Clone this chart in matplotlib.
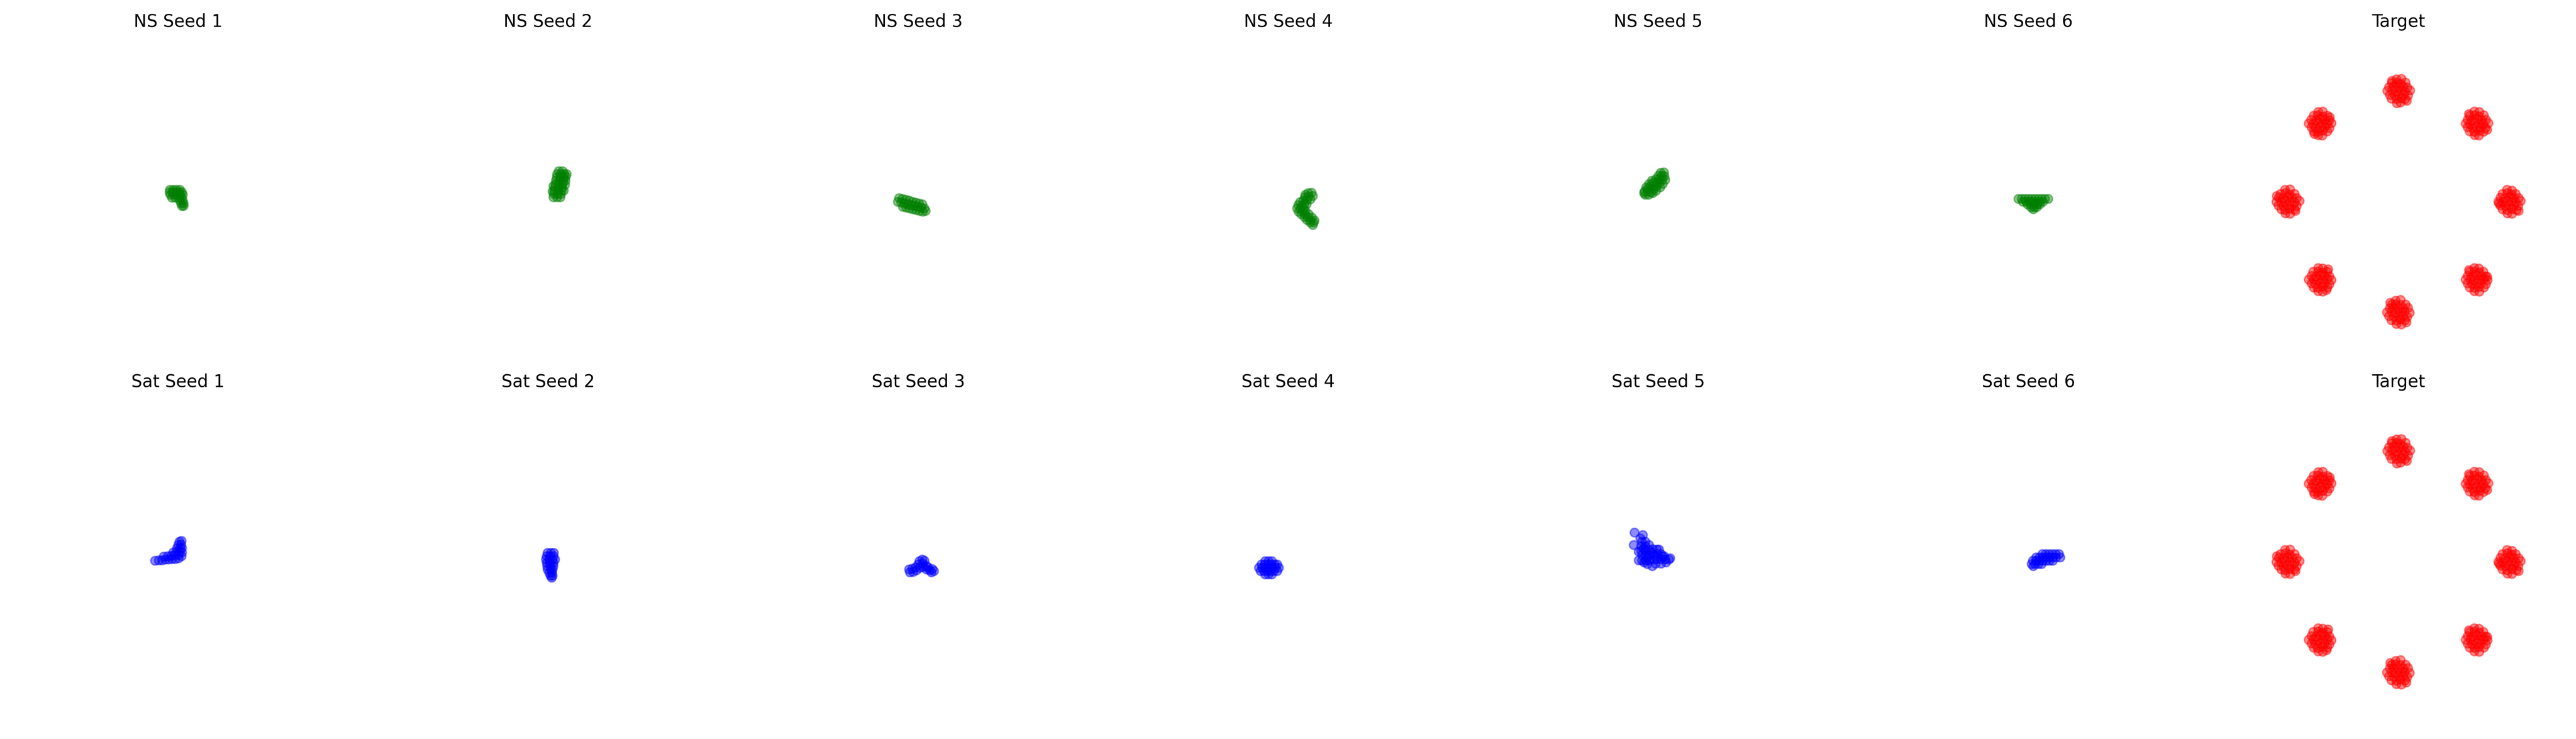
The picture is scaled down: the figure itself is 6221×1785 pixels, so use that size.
"""Generator samples vs. target for NS and Sat GAN losses, one panel per seed."""

import matplotlib

matplotlib.use("Agg")

import matplotlib.pyplot as plt

# --- generated samples (x, y) -----------------------------------------------
NS_SEED_1 = [(-0.15, 0.21), (-0.09, 0.21), (-0.03, 0.21), (0.03, 0.21),
             (-0.16, 0.17), (-0.10, 0.17), (-0.04, 0.17), (0.02, 0.17), (0.07, 0.17),
             (-0.14, 0.12), (-0.08, 0.12), (-0.02, 0.12), (0.04, 0.12), (0.08, 0.12),
             (-0.11, 0.07), (-0.05, 0.07), (0.01, 0.07), (0.06, 0.07),
             (0.03, 0.02), (0.08, 0.02), (0.05, -0.03), (0.10, -0.03), (0.07, -0.08), (0.10, -0.08)]
NS_SEED_2 = [(0.09, 0.08), (0.16, 0.08), (0.22, 0.08), (0.10, 0.14), (0.17, 0.14), (0.23, 0.14),
             (0.11, 0.20), (0.18, 0.20), (0.24, 0.20), (0.12, 0.26), (0.19, 0.26), (0.25, 0.26),
             (0.13, 0.32), (0.20, 0.32), (0.26, 0.32), (0.14, 0.38), (0.21, 0.38), (0.27, 0.38),
             (0.15, 0.44), (0.22, 0.44), (0.28, 0.44), (0.16, 0.50), (0.23, 0.50), (0.29, 0.50),
             (0.19, 0.55), (0.26, 0.55), (0.28, 0.20), (0.30, 0.30), (0.31, 0.38), (0.32, 0.45),
             (0.33, 0.50), (0.08, 0.18), (0.09, 0.28)]
NS_SEED_3 = [(-0.35, 0.06), (-0.29, 0.05), (-0.23, 0.03), (-0.17, 0.02), (-0.11, 0.00),
             (-0.05, -0.02), (0.01, -0.03), (0.07, -0.05),
             (-0.37, 0.00), (-0.31, -0.02), (-0.25, -0.03), (-0.19, -0.05), (-0.13, -0.06),
             (-0.07, -0.08), (-0.01, -0.09), (0.05, -0.11), (0.11, -0.12),
             (-0.28, -0.09), (-0.22, -0.11), (-0.16, -0.12), (-0.10, -0.14), (-0.04, -0.15),
             (0.02, -0.17), (0.08, -0.18), (0.13, -0.17)]
NS_SEED_4 = [(0.42, 0.16), (0.36, 0.15), (0.44, 0.10), (0.37, 0.09), (0.30, 0.08), (0.34, 0.03),
             (0.27, 0.02), (0.21, -0.01), (0.29, -0.04), (0.18, -0.06), (0.24, -0.08), (0.16, -0.12),
             (0.22, -0.13), (0.19, -0.18), (0.26, -0.18), (0.23, -0.23), (0.30, -0.23), (0.29, -0.28),
             (0.35, -0.28), (0.34, -0.33), (0.40, -0.33), (0.40, -0.38), (0.46, -0.38), (0.44, -0.42),
             (0.31, 0.12), (0.40, 0.04), (0.33, -0.05), (0.28, -0.12), (0.31, -0.17), (0.37, -0.23),
             (0.43, -0.29), (0.47, -0.34)]
NS_SEED_5 = [(-0.24, 0.12), (-0.18, 0.12), (-0.25, 0.18), (-0.19, 0.18), (-0.13, 0.17),
             (-0.20, 0.23), (-0.14, 0.23), (-0.08, 0.23), (-0.14, 0.29), (-0.08, 0.29),
             (-0.03, 0.28), (-0.09, 0.35), (-0.03, 0.35), (0.02, 0.34), (-0.04, 0.41),
             (0.02, 0.41), (0.07, 0.40), (0.00, 0.47), (0.06, 0.47), (0.11, 0.46),
             (0.04, 0.52), (0.10, 0.53), (-0.26, 0.15), (-0.22, 0.26), (-0.17, 0.32),
             (-0.12, 0.38), (-0.10, 0.15), (-0.04, 0.20), (0.03, 0.26), (0.08, 0.32), (0.12, 0.39)]
NS_SEED_6 = [(-0.18, 0.05), (-0.12, 0.05), (-0.06, 0.05), (0.00, 0.05), (0.06, 0.05),
             (0.12, 0.05), (0.18, 0.05), (0.24, 0.05), (0.30, 0.05), (0.36, 0.05),
             (-0.10, 0.00), (-0.04, 0.00), (0.02, 0.00), (0.08, 0.00), (0.14, 0.00),
             (0.20, 0.00), (0.26, 0.00), (-0.02, -0.05), (0.04, -0.05), (0.10, -0.05),
             (0.16, -0.05), (0.21, -0.05), (0.04, -0.10), (0.10, -0.10), (0.15, -0.10),
             (0.09, -0.14)]

SAT_SEED_1 = [(-0.42, 0.02), (-0.35, 0.03), (-0.29, 0.03), (-0.23, 0.04), (-0.17, 0.04),
              (-0.11, 0.05), (-0.05, 0.05), (0.01, 0.06), (-0.26, 0.09), (-0.19, 0.10),
              (-0.12, 0.11), (-0.06, 0.12), (0.01, 0.12), (0.06, 0.10), (-0.09, 0.17),
              (-0.03, 0.18), (0.03, 0.18), (0.07, 0.17), (-0.02, 0.24), (0.04, 0.24),
              (0.07, 0.25), (0.00, 0.30), (0.05, 0.31), (0.02, 0.36), (0.06, 0.38)]
SAT_SEED_2 = [(-0.01, 0.16), (0.05, 0.16), (0.10, 0.16), (-0.03, 0.10), (0.03, 0.10), (0.09, 0.10),
              (-0.04, 0.04), (0.02, 0.04), (0.08, 0.04), (0.12, 0.04), (-0.03, -0.02), (0.03, -0.02),
              (0.09, -0.02), (-0.02, -0.08), (0.04, -0.08), (0.09, -0.08), (-0.01, -0.14),
              (0.05, -0.14), (0.08, -0.14), (0.02, -0.20), (0.07, -0.20), (0.04, -0.25),
              (0.08, -0.25), (0.06, -0.29)]
SAT_SEED_3 = [(-0.17, -0.14), (-0.11, -0.12), (-0.15, -0.19), (-0.09, -0.18), (-0.05, -0.10),
              (-0.03, -0.15), (0.00, -0.05), (0.03, -0.11), (0.02, 0.01), (0.07, 0.04),
              (0.08, -0.03), (0.11, 0.02), (0.09, -0.09), (0.14, -0.07), (0.18, -0.10),
              (0.15, -0.14), (0.21, -0.15), (0.25, -0.13), (0.28, -0.17), (0.24, -0.19)]
SAT_SEED_4 = [(-0.42, 0.01), (-0.36, 0.01), (-0.30, 0.01),
              (-0.49, -0.05), (-0.43, -0.05), (-0.37, -0.05), (-0.31, -0.05), (-0.25, -0.05),
              (-0.20, -0.05), (-0.53, -0.11), (-0.47, -0.11), (-0.41, -0.11), (-0.35, -0.11),
              (-0.29, -0.11), (-0.23, -0.11), (-0.17, -0.11), (-0.50, -0.17), (-0.44, -0.17),
              (-0.38, -0.17), (-0.32, -0.17), (-0.26, -0.17), (-0.20, -0.17),
              (-0.42, -0.23), (-0.36, -0.23), (-0.30, -0.23)]
SAT_SEED_5 = [(-0.43, 0.53), (-0.28, 0.48), (-0.45, 0.30), (-0.36, 0.18), (-0.36, 0.03),
              (-0.33, 0.42), (-0.30, 0.36), (-0.24, 0.36), (-0.31, 0.28), (-0.24, 0.28),
              (-0.17, 0.30), (-0.31, 0.20), (-0.24, 0.20), (-0.17, 0.21), (-0.10, 0.23),
              (-0.03, 0.22), (0.01, 0.22), (-0.30, 0.12), (-0.23, 0.12), (-0.16, 0.12),
              (-0.09, 0.13), (-0.02, 0.14), (0.05, 0.14), (0.10, 0.10), (-0.30, 0.03),
              (-0.23, 0.03), (-0.16, 0.03), (-0.09, 0.04), (-0.02, 0.05), (0.05, 0.05),
              (0.12, 0.04), (0.19, 0.04), (0.21, 0.06), (-0.20, -0.04), (-0.11, -0.08),
              (-0.05, -0.03), (0.05, -0.03), (0.14, -0.01), (-0.27, 0.24), (-0.20, 0.08),
              (-0.06, 0.09), (0.08, 0.09), (-0.13, 0.17), (-0.26, -0.01)]
SAT_SEED_6 = [(0.25, 0.14), (0.31, 0.14), (0.37, 0.14), (0.43, 0.14), (0.49, 0.14), (0.55, 0.14),
              (0.14, 0.08), (0.20, 0.08), (0.26, 0.08), (0.32, 0.08), (0.38, 0.08), (0.44, 0.08),
              (0.50, 0.08), (0.57, 0.08), (0.08, 0.02), (0.14, 0.02), (0.20, 0.02), (0.26, 0.02),
              (0.32, 0.02), (0.38, 0.02), (0.44, 0.02), (0.06, -0.04), (0.12, -0.04),
              (0.18, -0.04), (0.24, -0.04), (0.09, -0.08)]

# --- target: eight gaussians on a ring of radius 2 ---------------------------
TARGET_TOP = [(-0.04, 2.21), (0.05, 2.22), (-0.12, 2.14), (-0.03, 2.15), (0.04, 2.13), (0.13, 2.15),
              (-0.17, 2.07), (-0.08, 2.08), (0.01, 2.06), (0.08, 2.08), (0.16, 2.06),
              (-0.20, 2.00), (-0.11, 2.01), (-0.04, 1.99), (0.05, 2.01), (0.12, 1.99), (0.21, 2.01),
              (-0.16, 1.93), (-0.07, 1.92), (0.00, 1.94), (0.09, 1.93), (0.17, 1.92),
              (-0.13, 1.86), (-0.04, 1.85), (0.05, 1.87), (0.12, 1.85), (-0.03, 1.78), (0.04, 1.79),
              (-0.12, 2.18), (0.15, 1.82)]
TARGET_TOP_RIGHT = [(1.37, 1.63), (1.46, 1.62), (1.29, 1.55), (1.38, 1.56), (1.45, 1.54), (1.54, 1.56),
                    (1.25, 1.48), (1.33, 1.47), (1.42, 1.49), (1.50, 1.47), (1.58, 1.48),
                    (1.21, 1.41), (1.29, 1.40), (1.37, 1.42), (1.46, 1.41), (1.53, 1.40), (1.62, 1.42),
                    (1.25, 1.34), (1.34, 1.33), (1.41, 1.35), (1.49, 1.34), (1.57, 1.33),
                    (1.29, 1.27), (1.37, 1.26), (1.46, 1.28), (1.53, 1.26), (1.38, 1.20), (1.45, 1.19),
                    (1.60, 1.30), (1.27, 1.58)]
TARGET_RIGHT = [(1.96, 0.21), (2.05, 0.20), (1.88, 0.14), (1.97, 0.15), (2.04, 0.13), (2.12, 0.14),
                (1.84, 0.07), (1.92, 0.06), (2.01, 0.08), (2.08, 0.07), (2.17, 0.06),
                (1.80, 0.00), (1.88, -0.01), (1.97, 0.01), (2.04, 0.00), (2.12, -0.01), (2.21, 0.01),
                (1.84, -0.07), (1.93, -0.08), (2.00, -0.06), (2.09, -0.07), (2.16, -0.08),
                (1.88, -0.14), (1.96, -0.15), (2.05, -0.13), (2.13, -0.15), (1.97, -0.21), (2.05, -0.22),
                (2.17, -0.17), (1.82, -0.03)]
TARGET_BOTTOM_RIGHT = [(1.37, -1.20), (1.45, -1.21), (1.29, -1.27), (1.38, -1.26), (1.46, -1.28),
                       (1.53, -1.27), (1.25, -1.34), (1.34, -1.35), (1.41, -1.33), (1.50, -1.34),
                       (1.57, -1.35), (1.21, -1.41), (1.30, -1.40), (1.37, -1.42), (1.45, -1.41),
                       (1.54, -1.40), (1.61, -1.42), (1.25, -1.48), (1.33, -1.49), (1.42, -1.47),
                       (1.49, -1.48), (1.58, -1.49), (1.29, -1.55), (1.38, -1.56), (1.45, -1.54),
                       (1.54, -1.55), (1.37, -1.62), (1.46, -1.63), (1.60, -1.36), (1.27, -1.24)]
TARGET_BOTTOM = [(-0.05, -1.79), (0.04, -1.78), (-0.12, -1.86), (-0.05, -1.85), (0.04, -1.87),
                 (0.13, -1.86), (-0.16, -1.93), (-0.09, -1.92), (0.00, -1.94), (0.08, -1.93),
                 (0.17, -1.92), (-0.21, -2.00), (-0.12, -1.99), (-0.05, -2.01), (0.04, -2.00),
                 (0.11, -1.99), (0.20, -2.01), (-0.17, -2.07), (-0.08, -2.08), (0.01, -2.06),
                 (0.08, -2.07), (0.16, -2.08), (-0.13, -2.14), (-0.04, -2.15), (0.03, -2.13),
                 (0.12, -2.14), (-0.04, -2.21), (0.05, -2.22), (0.14, -2.18), (-0.15, -1.83)]
TARGET_BOTTOM_LEFT = [(-1.45, -1.20), (-1.37, -1.21), (-1.54, -1.27), (-1.45, -1.26), (-1.38, -1.28),
                      (-1.29, -1.27), (-1.57, -1.34), (-1.49, -1.35), (-1.41, -1.33), (-1.33, -1.34),
                      (-1.25, -1.35), (-1.62, -1.41), (-1.53, -1.40), (-1.46, -1.42), (-1.37, -1.41),
                      (-1.29, -1.40), (-1.21, -1.42), (-1.57, -1.48), (-1.50, -1.49), (-1.41, -1.47),
                      (-1.34, -1.48), (-1.25, -1.49), (-1.53, -1.55), (-1.46, -1.56), (-1.37, -1.54),
                      (-1.29, -1.55), (-1.45, -1.62), (-1.37, -1.63), (-1.27, -1.22), (-1.30, -1.60)]
TARGET_LEFT = [(-2.05, 0.21), (-1.96, 0.22), (-2.13, 0.14), (-2.04, 0.15), (-1.97, 0.13), (-1.88, 0.14),
               (-2.16, 0.07), (-2.08, 0.06), (-2.00, 0.08), (-1.92, 0.07), (-1.84, 0.06),
               (-2.21, 0.00), (-2.12, -0.01), (-2.05, 0.01), (-1.96, 0.00), (-1.88, -0.01), (-1.79, 0.01),
               (-2.17, -0.07), (-2.08, -0.08), (-2.01, -0.06), (-1.92, -0.07), (-1.84, -0.08),
               (-2.12, -0.14), (-2.05, -0.15), (-1.96, -0.13), (-1.88, -0.14), (-2.04, -0.21), (-1.96, -0.22),
               (-2.20, 0.10), (-1.86, -0.17)]
TARGET_TOP_LEFT = [(-1.45, 1.62), (-1.37, 1.63), (-1.53, 1.55), (-1.46, 1.56), (-1.37, 1.54), (-1.29, 1.55),
                   (-1.58, 1.48), (-1.49, 1.47), (-1.42, 1.49), (-1.33, 1.48), (-1.25, 1.47),
                   (-1.62, 1.41), (-1.54, 1.40), (-1.45, 1.42), (-1.38, 1.41), (-1.29, 1.40), (-1.21, 1.42),
                   (-1.57, 1.34), (-1.50, 1.33), (-1.41, 1.35), (-1.33, 1.34), (-1.25, 1.33),
                   (-1.53, 1.27), (-1.46, 1.26), (-1.37, 1.28), (-1.29, 1.27), (-1.45, 1.20), (-1.38, 1.19),
                   (-1.24, 1.52), (-1.52, 1.22)]

TARGET = (TARGET_TOP + TARGET_TOP_RIGHT + TARGET_RIGHT + TARGET_BOTTOM_RIGHT
          + TARGET_BOTTOM + TARGET_BOTTOM_LEFT + TARGET_LEFT + TARGET_TOP_LEFT)

NS_SEEDS = [NS_SEED_1, NS_SEED_2, NS_SEED_3, NS_SEED_4, NS_SEED_5, NS_SEED_6]
SAT_SEEDS = [SAT_SEED_1, SAT_SEED_2, SAT_SEED_3, SAT_SEED_4, SAT_SEED_5, SAT_SEED_6]

DPI = 250
FIG_W_PX, FIG_H_PX = 6221, 1785
LIM = 3.0
ALPHA = 0.45


def draw(ax, pts, color, title):
    xs, ys = zip(*pts)
    ax.scatter(xs, ys, s=36, c=color, alpha=ALPHA)
    ax.set_xlim(-LIM, LIM)
    ax.set_ylim(-LIM, LIM)
    ax.set_title(title)
    ax.axis("off")


fig, axes = plt.subplots(2, 7, figsize=(FIG_W_PX / DPI, FIG_H_PX / DPI), dpi=DPI)
fig.subplots_adjust(left=0.00466, right=0.9955, top=0.9521, bottom=0.0154,
                    wspace=0.1143, hspace=0.0848)

for i, pts in enumerate(NS_SEEDS):
    draw(axes[0, i], pts, "green", f"NS Seed {i + 1}")
draw(axes[0, 6], TARGET, "red", "Target")

for i, pts in enumerate(SAT_SEEDS):
    draw(axes[1, i], pts, "blue", f"Sat Seed {i + 1}")
draw(axes[1, 6], TARGET, "red", "Target")

fig.savefig("out.png", dpi=DPI, facecolor="white")
